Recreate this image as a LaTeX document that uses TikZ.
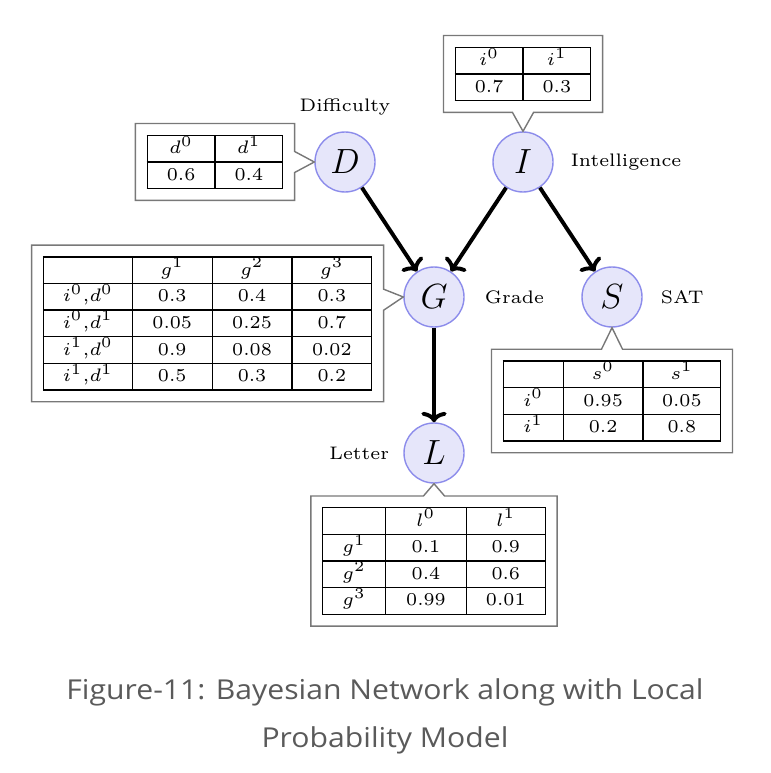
\documentclass[tikz,border=0pt]{standalone}
\usepackage{array}
\usepackage{graphicx}
\usepackage{fontspec}
\newfontfamily\capfont[FakeStretch=1.1]{Open Sans}
\usetikzlibrary{positioning,shapes.callouts,arrows.meta}

\definecolor{varfill}{RGB}{230,230,250}
\definecolor{varline}{RGB}{140,140,235}
\definecolor{boxline}{RGB}{120,120,120}
\definecolor{captext}{RGB}{90,90,90}

\newcolumntype{C}[1]{>{\centering\arraybackslash}p{#1}}
\newcommand{\enl}[1]{\scalebox{2.15}{\fontsize{6}{6}\selectfont #1}}
\renewcommand{\arraystretch}{1.4}
\setlength{\tabcolsep}{0pt}

\tikzset{
  var/.style={circle,draw=varline,fill=varfill,line width=1pt,minimum size=1.5cm,inner sep=0pt,font=\Huge},
  lbl/.style={inner sep=0pt},
  cpt/.style={rectangle callout,draw=boxline,line width=1pt,fill=white,inner sep=8pt,callout pointer width=15pt},
  arr/.style={-{To[width=18pt,length=7.5pt]},line width=2.8pt}
}

\begin{document}
\begin{tikzpicture}
  \useasboundingbox (0,0) rectangle (19.25,-19.325);
  % variables
  \node[var] (D) at (8.625,-4.05) {$D$};
  \node[var,on grid] (I) [right=4.45cm of D] {$I$};
  \node[var,on grid] (G) [below right=3.375cm and 2.225cm of D] {$G$};
  \node[var,on grid] (S) [right=4.45cm of G] {$S$};
  \node[var,on grid] (L) [below=3.9cm of G] {$L$};
  % names
  \node[lbl] (difficulty) [above=0.4cm of D] {\enl{Difficulty}};
  \node[lbl] (intelligence) [right=0.42cm of I] {\enl{Intelligence}};
  \node[lbl] (grade) [right=0.5cm of G] {\enl{Grade}};
  \node[lbl] (sat) [right=0.45cm of S] {\enl{SAT}};
  \node[lbl] (letter) [left=0.35cm of L] {\enl{Letter}};
  % edges
  \draw[arr] (D) -- (G);
  \draw[arr] (I) -- (G);
  \draw[arr] (I) -- (S);
  \draw[arr] (G) -- (L);
  % local probability tables
  \node[cpt,on grid,callout absolute pointer=(D.west)] (cptD) [left=3.25cm of D]
    {\enl{\begin{tabular}{|C{22pt}|C{22pt}|}
      \hline $d^0$ & $d^1$\\
      \hline 0.6 & 0.4\\
      \hline
    \end{tabular}}};
  \node[cpt,on grid,callout absolute pointer=(I.north)] (cptI) [above=2.2cm of I]
    {\enl{\begin{tabular}{|C{22pt}|C{22pt}|}
      \hline $i^0$ & $i^1$\\
      \hline 0.7 & 0.3\\
      \hline
    \end{tabular}}};
  \node[cpt,on grid,callout absolute pointer=(G.west)] (cptG) [below left=0.66cm and 5.66cm of G]
    {\enl{\begin{tabular}{|C{29pt}|C{26pt}|C{26pt}|C{26pt}|}
      \hline & $g^1$ & $g^2$ & $g^3$\\
      \hline $i^0{,}d^0$ & 0.3 & 0.4 & 0.3\\
      \hline $i^0{,}d^1$ & 0.05 & 0.25 & 0.7\\
      \hline $i^1{,}d^0$ & 0.9 & 0.08 & 0.02\\
      \hline $i^1{,}d^1$ & 0.5 & 0.3 & 0.2\\
      \hline
    \end{tabular}}};
  \node[cpt,on grid,callout absolute pointer=(S.south)] (cptS) [below=2.6cm of S]
    {\enl{\begin{tabular}{|C{19.4pt}|C{26pt}|C{25.3pt}|}
      \hline & $s^0$ & $s^1$\\
      \hline $i^0$ & 0.95 & 0.05\\
      \hline $i^1$ & 0.2 & 0.8\\
      \hline
    \end{tabular}}};
  \node[cpt,on grid,callout absolute pointer=(L.south)] (cptL) [below=2.7cm of L]
    {\enl{\begin{tabular}{|C{20.4pt}|C{26.3pt}|C{25.7pt}|}
      \hline & $l^0$ & $l^1$\\
      \hline $g^1$ & 0.1 & 0.9\\
      \hline $g^2$ & 0.4 & 0.6\\
      \hline $g^3$ & 0.99 & 0.01\\
      \hline
    \end{tabular}}};
  % caption
  \node[font=\capfont\fontsize{19.5}{34}\selectfont,text=captext,align=center] (caption) at (9.625,-17.9)
    {Figure-11: Bayesian Network along with Local\\Probability Model};
\end{tikzpicture}
\end{document}
